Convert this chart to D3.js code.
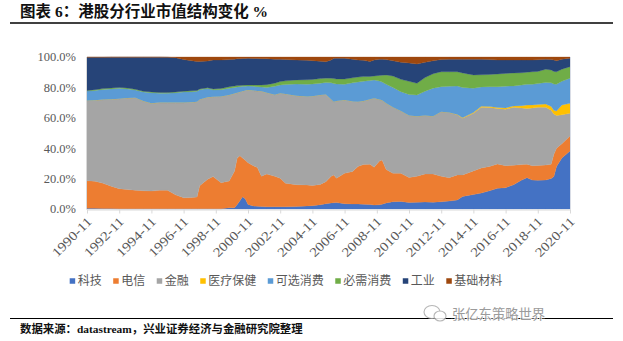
<!DOCTYPE html>
<html><head><meta charset="utf-8">
<script src="https://cdn.jsdelivr.net/npm/d3@7"></script>
<style>html,body{margin:0;padding:0;background:#fff;}svg{display:block}</style>
</head><body><svg id="c" width="623" height="341"></svg>
<script>
const dates = ["1990-11","1991-05","1991-11","1992-05","1992-11","1993-05","1993-11","1994-05","1994-11","1995-05",
"1995-11","1996-05","1996-11","1997-05","1997-09","1997-11","1998-05","1998-09","1999-03","1999-09",
"2000-01","2000-03","2000-05","2000-07","2000-09","2000-11","2001-03","2001-06","2001-09","2002-01",
"2002-07","2002-11","2003-03","2003-11","2004-07","2004-11","2005-05","2005-09","2006-01","2006-03",
"2006-05","2006-11","2007-05","2007-09","2008-01","2008-06","2008-09","2009-01","2009-03","2009-06",
"2009-11","2010-05","2010-11","2011-05","2011-11","2012-05","2012-11","2013-05","2013-11","2014-03",
"2014-11","2015-05","2015-11","2016-05","2016-11","2017-05","2017-11","2018-03","2018-07","2018-11",
"2019-05","2019-09","2019-11","2020-01","2020-05","2020-11"];
const tech = [0.5,0.5,0.4,0.3,0.2,0.2,0.2,0.2,0.2,0.2,
0.2,0.2,0.2,0.2,0.2,0.2,0.2,0.2,0.2,0.8,
0.8,3.0,5.5,8.0,6.5,3.0,2.0,1.8,1.6,1.5,
1.5,1.5,1.5,1.6,2.0,2.2,2.8,3.5,4.0,4.1,
4.2,3.5,3.3,3.3,3.2,3.0,2.6,2.8,3.2,4.0,
4.8,5.0,4.3,4.4,4.6,4.5,4.8,5.2,6.0,8.3,
9.5,10.5,12.0,13.6,14.0,16.0,19.0,20.6,19.0,18.9,
19.1,20.0,21.3,28.0,33.5,38.2];
const telecom = [18.1,17.8,16.5,14.7,13.2,12.6,12.2,11.8,11.6,12.1,
12.1,9.1,7.2,7.3,7.7,15.1,19.3,21.1,17.1,17.6,
24.2,30.5,29.5,25.5,25.5,27.5,26.5,25.5,19.9,21.5,
20.0,18.7,15.5,14.4,13.8,13.3,13.4,14.5,17.5,18.3,
16.0,20.0,21.3,24.7,26.0,26.4,24.8,28.7,29.0,22.0,
18.7,18.5,16.5,17.1,18.4,18.5,16.7,15.4,16.4,14.1,
15.5,16.5,16.0,16.0,14.5,12.8,10.2,8.8,9.5,9.7,
9.8,9.5,14.7,12.0,9.5,9.8];
const finance = [52.7,53.3,55.1,57.2,59.2,60.2,60.8,59.0,57.7,57.7,
57.7,60.7,62.6,62.8,62.7,56.7,54.0,52.6,56.7,56.6,
51.0,43.0,42.0,44.0,46.0,47.8,49.5,50.4,55.9,53.5,
53.7,55.9,58.7,58.5,58.2,58.7,58.8,57.4,50.5,48.2,
50.8,48.2,46.2,42.6,41.8,42.8,45.4,40.5,39.3,43.5,
43.5,41.0,40.7,39.5,38.5,38.0,42.5,42.9,39.6,37.3,
38.0,40.0,38.8,36.6,37.1,38.2,37.3,36.8,38.0,38.4,
38.1,35.5,26.5,21.5,19.0,15.0];
const health = [0,0,0,0,0,0,0,0,0,0,
0,0,0,0,0,0,0,0,0,0,
0,0,0,0,0,0,0,0,0,0,
0,0,0,0,0,0,0,0,0,0,
0,0,0,0,0,0,0,0,0,0,
0,0,0,0,0,0,0,0,0.2,0.4,
0.5,0.6,0.6,0.6,0.9,0.8,1.5,2.2,2.0,1.8,
2.0,2.5,2.5,3.0,6.5,6.5];
const discretionary = [6.3,6.4,6.7,6.8,6.8,6.0,5.1,6.0,7.0,6.2,
6.1,6.5,7.0,6.9,6.8,6.5,5.7,4.5,4.5,4.5,
4.0,3.8,3.5,3.2,2.8,2.6,2.7,2.8,2.8,3.5,
5.5,5.5,6.2,7.7,8.1,8.0,7.8,7.8,11.0,11.9,
11.3,10.3,12.2,12.9,13.0,12.4,12.1,12.2,12.0,12.5,
13.0,12.7,13.9,14.0,16.0,18.5,16.5,17.2,18.7,19.9,
15.9,12.7,13.1,13.7,14.3,13.2,13.5,13.6,13.5,13.7,
14.3,15.5,17.2,17.5,15.5,16.6];
const staples = [0.4,0.5,0.5,0.6,0.6,0.6,0.5,0.5,0.5,0.5,
0.5,0.5,0.5,0.6,0.6,0.5,0.5,0.6,0.8,1.0,
1.0,0.9,0.8,0.7,0.7,0.7,0.9,1.1,1.4,1.8,
2.1,2.2,2.4,2.7,2.9,3.0,3.0,2.9,3.0,3.3,
3.3,3.5,3.3,3.3,3.1,2.6,2.6,3.7,4.5,6.2,
7.5,8.1,8.6,7.7,9.0,9.5,9.8,9.6,9.4,9.5,
8.8,8.0,8.0,8.3,8.4,8.5,8.1,8.0,8.3,8.0,
8.6,8.5,8.3,8.3,8.0,7.5];
const industrials = [21.8,21.3,20.6,20.3,19.9,20.3,21.1,22.4,22.9,23.2,
23.2,22.5,20.8,19.7,19.0,18.0,17.6,19.0,18.7,17.8,
17.6,17.6,17.5,17.6,17.5,17.5,17.4,17.4,17.3,17.0,
15.7,14.7,14.1,13.1,12.8,12.4,11.4,10.8,12.0,13.3,
13.5,13.6,12.2,11.2,10.7,9.8,10.5,10.6,10.5,10.1,
10.0,11.2,12.1,12.7,10.0,8.5,8.0,8.2,8.2,9.0,
10.3,10.2,9.8,9.2,8.8,8.5,8.4,8.0,7.7,7.7,
6.6,6.8,7.5,7.2,6.5,5.5];
const materials = [0.2,0.2,0.2,0.1,0.1,0.1,0.1,0.1,0.1,0.1,
0.2,0.5,1.7,2.5,3.0,3.0,2.7,2.0,2.0,1.7,
1.4,1.2,1.2,1.0,1.0,0.9,1.0,1.0,1.1,1.2,
1.5,1.5,1.6,2.0,2.2,2.4,2.8,3.1,2.0,0.9,
0.9,0.9,1.5,2.0,2.2,3.0,2.0,1.5,1.5,1.7,
2.5,3.5,3.9,4.6,3.5,2.5,1.7,1.5,1.5,1.5,
1.5,1.5,1.7,2.0,2.0,2.0,2.0,2.0,2.0,1.8,
1.5,1.7,2.0,2.5,1.5,0.9];
const seriesNames = ["科技","电信","金融","医疗保健","可选消费","必需消费","工业","基础材料"];
const seriesColors = ["#4472C4","#ED7D31","#A5A5A5","#FFC000","#5B9BD5","#70AD47","#264478","#9E480E"];
const yTickValues = [0, 0.2, 0.4, 0.6, 0.8, 1];
const yTickLabels = ["0.0%","20.0%","40.0%","60.0%","80.0%","100.0%"];
const xTickLabels = ["1990-11","1992-11","1994-11","1996-11","1998-11","2000-11","2002-11","2004-11",
"2006-11","2008-11","2010-11","2012-11","2014-11","2016-11","2018-11","2020-11"];
const titleText = "图表 6：港股分行业市值结构变化  %";
const sourceText = "数据来源：datastream，兴业证券经济与金融研究院整理";
const watermarkText = "张亿东策略世界";

const parse = d3.timeParse("%Y-%m");
const seriesArrays = [tech, telecom, finance, health, discretionary, staples, industrials, materials];
const rows = dates.map((d, i) => {
  const r = {date: parse(d)};
  seriesNames.forEach((n, k) => r[n] = seriesArrays[k][i]);
  return r;
});

const svg = d3.select("#c");
svg.append("rect").attr("width", 623).attr("height", 341).attr("fill", "#fff");

const x = d3.scaleTime().domain([parse(dates[0]), parse(dates[dates.length - 1])]).range([87, 570]);
const y = d3.scaleLinear().domain([0, 1]).range([209, 57]);

const stack = d3.stack().keys(seriesNames).offset(d3.stackOffsetExpand);
const layers = stack(rows);
const area = d3.area().x(d => x(d.data.date)).y0(d => y(d[0])).y1(d => y(d[1]));

svg.append("g").selectAll("path").data(layers).join("path")
  .attr("d", area).attr("fill", (d, i) => seriesColors[i]).attr("stroke", (d, i) => seriesColors[i]).attr("stroke-width", 0.3);

// title
svg.append("text").attr("x", 20).attr("y", 17).text(titleText)
  .attr("font-family", "'Liberation Serif','Noto Sans CJK SC'").attr("font-weight", "bold")
  .attr("font-size", 15.5).attr("fill", "#111");
svg.append("line").attr("x1", 10).attr("x2", 613).attr("y1", 23).attr("y2", 23).attr("stroke", "#000").attr("stroke-width", 1.3);

// y axis labels
const yg = svg.append("g");
yg.selectAll("text").data(yTickValues).join("text")
  .attr("x", 76).attr("y", d => y(d)).attr("dy", "0.35em").attr("text-anchor", "end")
  .attr("font-family", "'Liberation Serif','Noto Sans CJK SC'").attr("font-size", 12.5).attr("fill", "#595959")
  .text((d, i) => yTickLabels[i]);
svg.append("line").attr("x1", 86.5).attr("x2", 86.5).attr("y1", 57).attr("y2", 209.5).attr("stroke", "#d9d9d9");
svg.append("line").attr("x1", 570.5).attr("x2", 570.5).attr("y1", 57).attr("y2", 209.5).attr("stroke", "#d9dde6");

// x axis
const xTicks = xTickLabels.map(parse);
const xAxis = d3.axisBottom(x).tickValues(xTicks).tickFormat((d, i) => xTickLabels[i]).tickSize(4).tickSizeOuter(0);
const xg = svg.append("g").attr("transform", "translate(0,209.5)").call(xAxis);
xg.select(".domain").attr("stroke", "#d9d9d9");
xg.selectAll(".tick line").attr("stroke", "#d9d9d9");
xg.selectAll(".tick text")
  .attr("font-family", "'Liberation Serif','Noto Sans CJK SC'").attr("font-size", 13).attr("fill", "#595959")
  .attr("text-anchor", "end").attr("y", 0).attr("dy", 0)
  .attr("transform", "translate(5,13) rotate(-45)")
  .attr("textLength", 50).attr("lengthAdjust", "spacingAndGlyphs");

// legend
const lg = svg.append("g");
const legendFont = 12;
const items = seriesNames.map((n, i) => ({n, c: seriesColors[i]}));
const tmp = lg.append("text").attr("font-family", "'Noto Sans CJK SC'").attr("font-size", legendFont);
const widths = items.map(it => { tmp.text(it.n); return tmp.node().getComputedTextLength(); });
tmp.remove();
const sq = 5.5, gapSq = 2.5, gapItem = 11.5;
const total = d3.sum(widths) + items.length * (sq + gapSq) + (items.length - 1) * gapItem;
let cx = 286 - total / 2;
const ly = 281;
items.forEach((it, i) => {
  lg.append("rect").attr("x", cx).attr("y", ly - sq / 2).attr("width", sq).attr("height", sq).attr("fill", it.c);
  lg.append("text").attr("x", cx + sq + gapSq).attr("y", ly).attr("dy", "0.36em")
    .attr("font-family", "'Noto Sans CJK SC'").attr("font-size", legendFont).attr("fill", "#595959").text(it.n);
  cx += sq + gapSq + widths[i] + gapItem;
});

// bottom
svg.append("line").attr("x1", 10).attr("x2", 613).attr("y1", 318.5).attr("y2", 318.5).attr("stroke", "#000").attr("stroke-width", 1.2);
svg.append("text").attr("x", 20).attr("y", 333).text(sourceText)
  .attr("font-family", "'Liberation Serif','Noto Sans CJK SC'").attr("font-weight", "bold")
  .attr("font-size", 11.4).attr("fill", "#111");

// watermark
const wm = svg.append("g").attr("opacity", 0.85);
wm.append("ellipse").attr("cx", 432).attr("cy", 312).attr("rx", 8).attr("ry", 6.5).attr("fill", "#fff").attr("stroke", "#aaa").attr("stroke-width", 1.1);
wm.append("ellipse").attr("cx", 440).attr("cy", 316).attr("rx", 6).attr("ry", 5).attr("fill", "#fff").attr("stroke", "#aaa").attr("stroke-width", 1.1);
wm.append("text").attr("x", 452).attr("y", 319).text(watermarkText)
  .attr("font-family", "'Noto Sans CJK SC'").attr("font-size", 13.3).attr("fill", "#8a8a8a")
  .attr("stroke", "#fff").attr("stroke-width", 2).attr("paint-order", "stroke");
</script></body></html>
